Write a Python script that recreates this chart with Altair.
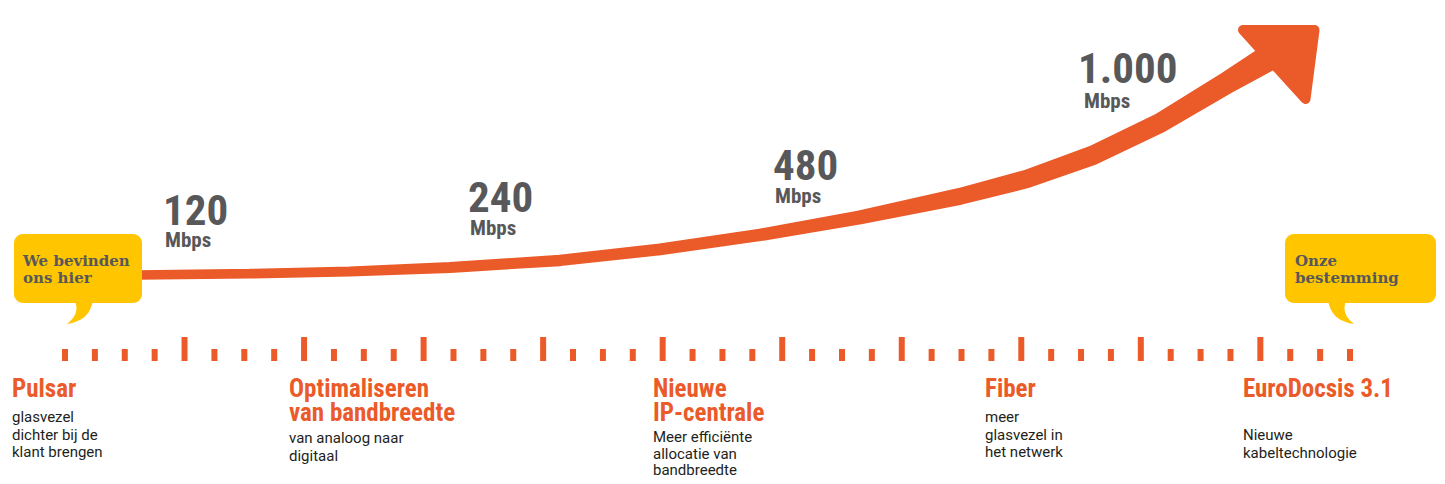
import altair as alt
import pandas as pd

ORANGE = "#EB5A29"
GREY = "#58585A"
DARK = "#231F20"
YELLOW = "#FFC600"

# --- growth arrow (centre line, band width) ---
curve_x = [138, 250, 350, 450, 560, 660, 760, 860, 960, 1027, 1093, 1160, 1227, 1285]
curve_y = [275, 273.7, 271.5, 267.5, 260.4, 249.4, 234.9, 217.4, 196.4, 178.9, 155.2, 123, 82.8, 48]
curve_w = [9.5, 9.8, 10.2, 10.8, 11.5, 12, 12.5, 14, 17, 18.5, 19.5, 20, 22, 28]

# --- speed labels ---
speeds = ["120", "240", "480", "1.000"]
speed_x = [163, 468, 773, 1078]
speed_y = [225, 212, 180, 83]
unit_x = [165, 470, 775, 1084]
unit_y = [247, 235, 203, 108]

# --- timeline ---
n_ticks = 44
tick_first, tick_last = 65, 1350

titles = [["Pulsar"], ["Optimaliseren", "van bandbreedte"], ["Nieuwe", "IP-centrale"],
          ["Fiber"], ["EuroDocsis 3.1"]]
title_x = [12, 289, 653, 985, 1243]
descs = [["glasvezel", "dichter bij de", "klant brengen"],
         ["van analoog naar", "digitaal"],
         ["Meer efficiënte", "allocatie van", "bandbreedte"],
         ["meer", "glasvezel in", "het netwerk"],
         ["Nieuwe", "kabeltechnologie"]]
desc_y0 = [422, 443, 442, 422, 440]
desc_gap = [17.5, 17.5, 16.5, 17.5, 17.5]

# --- speech bubbles ---
bubble_text = [["We bevinden", "ons hier"], ["Onze", "bestemming"]]
bubble_x = [14, 1285]
bubble_x2 = [142, 1436]
bubble_text_x = [23, 1295]
tail_x = [80, 1341]
tail_paths = [
    "M -0.25 -0.6 L 0.65 -0.6 C 0.5 0 0.25 0.4 -0.65 0.55 C -0.15 0.15 -0.1 -0.2 -0.25 -0.6 Z",
    "M 0.25 -0.6 L -0.65 -0.6 C -0.5 0 -0.25 0.4 0.65 0.55 C 0.15 0.15 0.1 -0.2 0.25 -0.6 Z",
]
HEAD_PATH = "M -0.84 -0.36 L 0.59 -0.36 L 0.41 1.02 Z"

FONT_COND = ("Noto Sans ExtraCondensed, Noto Sans Condensed, Roboto Condensed, "
             "DejaVu Sans Condensed, sans-serif")
FONT_BODY = "Roboto, Inter, sans-serif"
FONT_SLAB = "DejaVu Serif, serif"

W, H = 1429, 468
xs = alt.Scale(domain=[8, 8 + W], nice=False, zero=False)
ys = alt.Scale(domain=[8, 8 + H], reverse=True, nice=False, zero=False)


def X(f):
    return alt.X(f, type="quantitative", scale=xs, axis=None)


def Y(f):
    return alt.Y(f, type="quantitative", scale=ys, axis=None)


curve_df = pd.DataFrame({"x": curve_x, "y": curve_y, "w": curve_w, "o": range(len(curve_x))})
trail = alt.Chart(curve_df).mark_trail(color=ORANGE).encode(
    x=X("x"), y=Y("y"), size=alt.Size("w:Q", scale=None, legend=None), order="o:Q")

head_df = pd.DataFrame({"x": [curve_x[-1]], "y": [curve_y[-1]], "s": [HEAD_PATH]})
head = alt.Chart(head_df).mark_point(
    filled=True, color=ORANGE, stroke=ORANGE, strokeWidth=10, strokeJoin="round",
    opacity=1, size=10000).encode(
    x=X("x"), y=Y("y"), shape=alt.Shape("s:N", scale=None, legend=None))

num_df = pd.DataFrame({"t": speeds, "x": speed_x, "y": speed_y})
nums = alt.Chart(num_df).mark_text(
    align="left", baseline="alphabetic", font=FONT_COND, fontWeight="bold",
    fontSize=43, color=GREY).encode(x=X("x"), y=Y("y"), text="t:N")
unit_df = pd.DataFrame({"t": ["Mbps"] * 4, "x": unit_x, "y": unit_y})
units = alt.Chart(unit_df).mark_text(
    align="left", baseline="alphabetic", font=FONT_COND, fontWeight="bold",
    fontSize=21, color=GREY).encode(x=X("x"), y=Y("y"), text="t:N")

step = (tick_last - tick_first) / (n_ticks - 1)
tick_df = pd.DataFrame({
    "x": [tick_first + i * step for i in range(n_ticks)],
    "y": [337 if (i % 4 == 0 and i > 0) else 349 for i in range(n_ticks)],
    "y2": [361] * n_ticks,
})
ticks = alt.Chart(tick_df).mark_rule(color=ORANGE, strokeWidth=6).encode(
    x=X("x"), y=Y("y"), y2="y2:Q")

trows = []
for lines, x in zip(titles, title_x):
    for k, line in enumerate(lines):
        trows.append({"t": line, "x": x, "y": 397 + 24 * k})
title_layer = alt.Chart(pd.DataFrame(trows)).mark_text(
    align="left", baseline="alphabetic", font=FONT_COND, fontWeight="bold",
    fontSize=25, color=ORANGE).encode(x=X("x"), y=Y("y"), text="t:N")

drows = []
for lines, x, y0, g in zip(descs, title_x, desc_y0, desc_gap):
    for k, line in enumerate(lines):
        drows.append({"t": line, "x": x, "y": y0 + g * k})
desc_layer = alt.Chart(pd.DataFrame(drows)).mark_text(
    align="left", baseline="alphabetic", font=FONT_BODY, fontSize=15,
    color=DARK).encode(x=X("x"), y=Y("y"), text="t:N")

bub_df = pd.DataFrame({"x": bubble_x, "x2": bubble_x2, "y": [234, 234], "y2": [303, 303]})
bubbles = alt.Chart(bub_df).mark_rect(color=YELLOW, cornerRadius=9).encode(
    x=X("x"), x2="x2:Q", y=Y("y"), y2="y2:Q")
tail_df = pd.DataFrame({"x": tail_x, "y": [313, 313], "s": tail_paths})
tails = alt.Chart(tail_df).mark_point(
    filled=True, color=YELLOW, strokeWidth=0, opacity=1, size=1600).encode(
    x=X("x"), y=Y("y"), shape=alt.Shape("s:N", scale=None, legend=None))

brows = []
for lines, x in zip(bubble_text, bubble_text_x):
    for k, line in enumerate(lines):
        brows.append({"t": line, "x": x, "y": 266 + 17 * k})
btext = alt.Chart(pd.DataFrame(brows)).mark_text(
    align="left", baseline="alphabetic", font=FONT_SLAB, fontWeight="bold",
    fontSize=15, color=GREY).encode(x=X("x"), y=Y("y"), text="t:N")

chart = alt.layer(
    trail, head, nums, units, ticks, title_layer, desc_layer, bubbles, tails, btext
).properties(
    width=W, height=H, padding=0, autosize=alt.AutoSizeParams(type="none"),
    background="white"
).configure_view(stroke=None)

chart.save("out.html", embed_options={"renderer": "svg", "actions": False})
